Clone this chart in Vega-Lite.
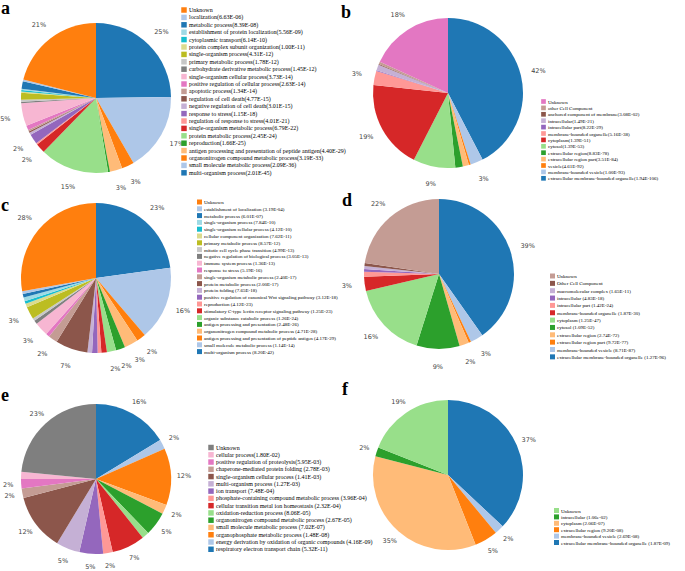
{
  "$schema": "https://vega.github.io/schema/vega-lite/v6.json",
  "padding": 0,
  "background": "white",
  "config": {"view": {"stroke": null}},
  "columns": 2,
  "spacing": {"row": 14, "column": 182},
  "bounds": "flush",
  "resolve": {"scale": {"color": "independent", "theta": "independent"}, "legend": {"color": "independent"}},
  "datasets": {
    "a": [
      {"k": "multi-organism process(2.01E-45)", "v": 0.25, "o": 0},
      {"k": "small molecule metabolic process(2.09E-36)", "v": 0.17, "o": 1},
      {"k": "organonitrogen compound metabolic process(3.19E-33)", "v": 0.027, "o": 2},
      {"k": "antigen processing and presentation of peptide antigen(4.40E-29)", "v": 0.027, "o": 3},
      {"k": "reproduction(1.66E-25)", "v": 0.004, "o": 4},
      {"k": "protein metabolic process(2.45E-24)", "v": 0.15, "o": 5},
      {"k": "single-organism metabolic process(6.79E-22)", "v": 0.021, "o": 6},
      {"k": "regulation of response to stress(4.01E-21)", "v": 0.003, "o": 7},
      {"k": "response to stress(1.15E-18)", "v": 0.022, "o": 8},
      {"k": "negative regulation of cell death(3.01E-15)", "v": 0.005, "o": 9},
      {"k": "regulation of cell death(4.77E-15)", "v": 0.003, "o": 10},
      {"k": "apoptotic process(1.34E-14)", "v": 0.003, "o": 11},
      {"k": "positive regulation of cellular process(2.63E-14)", "v": 0.01, "o": 12},
      {"k": "single-organism cellular process(3.73E-14)", "v": 0.05, "o": 13},
      {"k": "carbohydrate derivative metabolic process(1.45E-12)", "v": 0.003, "o": 14},
      {"k": "primary metabolic process(1.78E-12)", "v": 0.004, "o": 15},
      {"k": "single-organism process(4.31E-12)", "v": 0.015, "o": 16},
      {"k": "protein complex subunit organization(1.00E-11)", "v": 0.003, "o": 17},
      {"k": "cytoplasmic transport(6.14E-10)", "v": 0.003, "o": 18},
      {"k": "establishment of protein localization(5.56E-09)", "v": 0.003, "o": 19},
      {"k": "metabolic process(8.39E-08)", "v": 0.016, "o": 20},
      {"k": "localization(6.63E-06)", "v": 0.004, "o": 21},
      {"k": "Unknown", "v": 0.212, "o": 22}
    ],
    "b": [
      {"k": "extracellular membrane-bounded organelle(1.94E-106)", "v": 0.42, "o": 0},
      {"k": "membrane-bounded vesicle(1.00E-93)", "v": 0.027, "o": 1},
      {"k": "vesicle(4.61E-92)", "v": 0.004, "o": 2},
      {"k": "extracellular region part(3.51E-84)", "v": 0.013, "o": 3},
      {"k": "extracellular region(8.83E-78)", "v": 0.016, "o": 4},
      {"k": "cytosol(1.39E-53)", "v": 0.09, "o": 5},
      {"k": "cytoplasm(1.39E-51)", "v": 0.19, "o": 6},
      {"k": "membrane-bounded organelle(5.16E-38)", "v": 0.03, "o": 7},
      {"k": "intracellular part(8.22E-29)", "v": 0.002, "o": 8},
      {"k": "intracellular(1.49E-21)", "v": 0.012, "o": 9},
      {"k": "anchored component of membrane(3.08E-02)", "v": 0.002, "o": 10},
      {"k": "other Cell Component", "v": 0.005, "o": 11},
      {"k": "Unknown", "v": 0.18, "o": 12}
    ],
    "c": [
      {"k": "multi-organism process (8.20E-42)", "v": 0.23, "o": 0},
      {"k": "small molecule metabolic process (1.14E-14)", "v": 0.16, "o": 1},
      {"k": "antigen processing and presentation of peptide antigen (4.17E-29)", "v": 0.02, "o": 2},
      {"k": "organonitrogen compound metabolic process (4.71E-28)", "v": 0.03, "o": 3},
      {"k": "antigen processing and presentation (2.48E-26)", "v": 0.02, "o": 4},
      {"k": "organic substance catabolic process (1.26E-24)", "v": 0.02, "o": 5},
      {"k": "stimulatory C-type lectin receptor signaling pathway (1.25E-23)", "v": 0.012, "o": 6},
      {"k": "reproduction (4.12E-23)", "v": 0.008, "o": 7},
      {"k": "positive regulation of canonical Wnt signaling pathway (3.12E-18)", "v": 0.012, "o": 8},
      {"k": "protein folding (7.65E-18)", "v": 0.01, "o": 9},
      {"k": "protein metabolic process (2.00E-17)", "v": 0.07, "o": 10},
      {"k": "single-organism metabolic process (2.40E-17)", "v": 0.02, "o": 11},
      {"k": "response to stress (5.19E-16)", "v": 0.008, "o": 12},
      {"k": "immune system process (1.36E-13)", "v": 0.03, "o": 13},
      {"k": "negative regulation of biological process (3.05E-13)", "v": 0.008, "o": 14},
      {"k": "mitotic cell cycle phase transition (4.99E-13)", "v": 0.006, "o": 15},
      {"k": "primary metabolic process (8.57E-12)", "v": 0.027, "o": 16},
      {"k": "cellular component organization (7.62E-11)", "v": 0.008, "o": 17},
      {"k": "single-organism cellular process (4.12E-10)", "v": 0.006, "o": 18},
      {"k": "single-organism process (7.84E-10)", "v": 0.008, "o": 19},
      {"k": "metabolic process (6.01E-07)", "v": 0.008, "o": 20},
      {"k": "establishment of localization (3.19E-04)", "v": 0.006, "o": 21},
      {"k": "Unknown", "v": 0.28, "o": 22}
    ],
    "d": [
      {"k": "extracellular membrane-bounded organelle (1.27E-96)", "v": 0.39, "o": 0},
      {"k": "membrane-bounded vesicle (8.71E-87)", "v": 0.027, "o": 1},
      {"k": "extracellular region part (9.72E-77)", "v": 0.005, "o": 2},
      {"k": "extracellular region (2.74E-72)", "v": 0.02, "o": 3},
      {"k": "cytosol (1.09E-52)", "v": 0.09, "o": 4},
      {"k": "cytoplasm (1.25E-47)", "v": 0.16, "o": 5},
      {"k": "membrane-bounded organelle (1.87E-30)", "v": 0.03, "o": 6},
      {"k": "intracellular part (1.42E-24)", "v": 0.01, "o": 7},
      {"k": "intracellular (4.83E-18)", "v": 0.006, "o": 8},
      {"k": "macromolecular complex (1.65E-11)", "v": 0.006, "o": 9},
      {"k": "Other Cell Component", "v": 0.006, "o": 10},
      {"k": "Unknown", "v": 0.22, "o": 11}
    ],
    "e": [
      {"k": "respiratory electron transport chain (5.32E-11)", "v": 0.16, "o": 0},
      {"k": "energy derivation by oxidation of organic compounds (4.16E-09)", "v": 0.02, "o": 1},
      {"k": "organophosphate metabolic process (1.48E-08)", "v": 0.12, "o": 2},
      {"k": "small molecule metabolic process (7.02E-07)", "v": 0.02, "o": 3},
      {"k": "organonitrogen compound metabolic process (2.67E-05)", "v": 0.05, "o": 4},
      {"k": "oxidation-reduction process (8.06E-05)", "v": 0.015, "o": 5},
      {"k": "cellular transition metal ion homeostasis (2.32E-04)", "v": 0.07, "o": 6},
      {"k": "phosphate-containing compound metabolic process (3.96E-04)", "v": 0.02, "o": 7},
      {"k": "ion transport (7.48E-04)", "v": 0.05, "o": 8},
      {"k": "multi-organism process (1.27E-03)", "v": 0.05, "o": 9},
      {"k": "single-organism cellular process (1.41E-03)", "v": 0.12, "o": 10},
      {"k": "chaperone-mediated protein folding (2.78E-03)", "v": 0.02, "o": 11},
      {"k": "positive regulation of proteolysis(5.95E-03)", "v": 0.02, "o": 12},
      {"k": "cellular process(1.80E-02)", "v": 0.015, "o": 13},
      {"k": "Unknown", "v": 0.23, "o": 14}
    ],
    "f": [
      {"k": "extracellular membrane-bounded organelle (1.87E-09)", "v": 0.37, "o": 0},
      {"k": "membrane-bounded vesicle (2.69E-08)", "v": 0.02, "o": 1},
      {"k": "extracellular region (9.20E-08)", "v": 0.05, "o": 2},
      {"k": "cytoplasm (2.06E-07)", "v": 0.35, "o": 3},
      {"k": "intracellular (1.06e-02)", "v": 0.02, "o": 4},
      {"k": "Unknown", "v": 0.19, "o": 5}
    ]
  },
  "concat": [
    {
      "width": 170, "height": 168,
      "title": {"text": "a", "anchor": "start", "frame": "group", "font": "Liberation Serif", "fontSize": 18, "fontWeight": "bold", "color": "#000", "offset": 0, "dx": -10, "dy": 11},
      "data": {"name": "a"},
      "layer": [
        {"mark": {"type": "arc", "radius": 75},
         "encoding": {
           "theta": {"field": "v", "type": "quantitative", "stack": true},
           "order": {"field": "o", "type": "quantitative"},
           "color": {"field": "k", "type": "nominal",
             "scale": {"domain": ["Unknown", "localization(6.63E-06)", "metabolic process(8.39E-08)", "establishment of protein localization(5.56E-09)", "cytoplasmic transport(6.14E-10)", "protein complex subunit organization(1.00E-11)", "single-organism process(4.31E-12)", "primary metabolic process(1.78E-12)", "carbohydrate derivative metabolic process(1.45E-12)", "single-organism cellular process(3.73E-14)", "positive regulation of cellular process(2.63E-14)", "apoptotic process(1.34E-14)", "regulation of cell death(4.77E-15)", "negative regulation of cell death(3.01E-15)", "response to stress(1.15E-18)", "regulation of response to stress(4.01E-21)", "single-organism metabolic process(6.79E-22)", "protein metabolic process(2.45E-24)", "reproduction(1.66E-25)", "antigen processing and presentation of peptide antigen(4.40E-29)", "organonitrogen compound metabolic process(3.19E-33)", "small molecule metabolic process(2.09E-36)", "multi-organism process(2.01E-45)"],
                       "range": ["#ff7f0e","#aec7e8","#1f77b4","#9edae5","#17becf","#dbdb8d","#bcbd22","#c7c7c7","#7f7f7f","#f7b6d2","#e377c2","#c49c94","#8c564b","#c5b0d5","#9467bd","#ff9896","#d62728","#98df8a","#2ca02c","#ffbb78","#ff7f0e","#aec7e8","#1f77b4"]},
             "legend": {"orient": "none", "legendX": 170, "legendY": -7, "title": null, "symbolType": "square", "symbolSize": 30, "symbolStrokeWidth": 0, "symbolOpacity": 1, "labelFont": "Liberation Serif", "labelFontSize": 6, "labelColor": "#000", "rowPadding": 1.4, "labelLimit": 400, "labelOffset": 2, "padding": 0}}
         }},
        {"mark": {"type": "text", "radius": 93, "font": "DejaVu Sans", "fontSize": 6.5, "color": "#444", "align": "center", "baseline": "middle"},
         "encoding": {
           "theta": {"field": "v", "type": "quantitative", "stack": true},
           "order": {"field": "o", "type": "quantitative"},
           "detail": {"field": "k"},
           "text": {"condition": {"test": "datum.v >= 0.0195", "field": "v", "type": "quantitative", "format": ".0%"}, "value": ""}
         }}
      ]
    },
    {
      "width": 170, "height": 158,
      "title": {"text": "b", "anchor": "start", "frame": "group", "font": "Liberation Serif", "fontSize": 18, "fontWeight": "bold", "color": "#000", "offset": 0, "dx": -22, "dy": 10},
      "data": {"name": "b"},
      "layer": [
        {"mark": {"type": "arc", "radius": 75},
         "encoding": {
           "theta": {"field": "v", "type": "quantitative", "stack": true},
           "order": {"field": "o", "type": "quantitative"},
           "color": {"field": "k", "type": "nominal",
             "scale": {"domain": ["Unknown", "other Cell Component", "anchored component of membrane(3.08E-02)", "intracellular(1.49E-21)", "intracellular part(8.22E-29)", "membrane-bounded organelle(5.16E-38)", "cytoplasm(1.39E-51)", "cytosol(1.39E-53)", "extracellular region(8.83E-78)", "extracellular region part(3.51E-84)", "vesicle(4.61E-92)", "membrane-bounded vesicle(1.00E-93)", "extracellular membrane-bounded organelle(1.94E-106)"],
                       "range": ["#e377c2","#c49c94","#8c564b","#c5b0d5","#9467bd","#ff9896","#d62728","#98df8a","#2ca02c","#ffbb78","#ff7f0e","#aec7e8","#1f77b4"]},
             "legend": {"orient": "none", "legendX": 178, "legendY": 85, "title": null, "symbolType": "square", "symbolSize": 22, "symbolStrokeWidth": 0, "symbolOpacity": 1, "labelFont": "Liberation Serif", "labelFontSize": 5, "labelColor": "#000", "rowPadding": 0.4, "labelLimit": 400, "labelOffset": 2, "padding": 0}}
         }},
        {"mark": {"type": "text", "radius": 93, "font": "DejaVu Sans", "fontSize": 6.5, "color": "#444", "align": "center", "baseline": "middle"},
         "encoding": {
           "theta": {"field": "v", "type": "quantitative", "stack": true},
           "order": {"field": "o", "type": "quantitative"},
           "detail": {"field": "k"},
           "text": {"condition": {"test": "datum.v >= 0.0195", "field": "v", "type": "quantitative", "format": ".0%"}, "value": ""}
         }}
      ]
    },
    {
      "width": 170, "height": 164,
      "title": {"text": "c", "anchor": "start", "frame": "group", "font": "Liberation Serif", "fontSize": 18, "fontWeight": "bold", "color": "#000", "offset": 0, "dx": -10, "dy": 19},
      "data": {"name": "c"},
      "layer": [
        {"mark": {"type": "arc", "radius": 75},
         "encoding": {
           "theta": {"field": "v", "type": "quantitative", "stack": true},
           "order": {"field": "o", "type": "quantitative"},
           "color": {"field": "k", "type": "nominal",
             "scale": {"domain": ["Unknown", "establishment of localization (3.19E-04)", "metabolic process (6.01E-07)", "single-organism process (7.84E-10)", "single-organism cellular process (4.12E-10)", "cellular component organization (7.62E-11)", "primary metabolic process (8.57E-12)", "mitotic cell cycle phase transition (4.99E-13)", "negative regulation of biological process (3.05E-13)", "immune system process (1.36E-13)", "response to stress (5.19E-16)", "single-organism metabolic process (2.40E-17)", "protein metabolic process (2.00E-17)", "protein folding (7.65E-18)", "positive regulation of canonical Wnt signaling pathway (3.12E-18)", "reproduction (4.12E-23)", "stimulatory C-type lectin receptor signaling pathway (1.25E-23)", "organic substance catabolic process (1.26E-24)", "antigen processing and presentation (2.48E-26)", "organonitrogen compound metabolic process (4.71E-28)", "antigen processing and presentation of peptide antigen (4.17E-29)", "small molecule metabolic process (1.14E-14)", "multi-organism process (8.20E-42)"],
                       "range": ["#ff7f0e","#aec7e8","#1f77b4","#9edae5","#17becf","#dbdb8d","#bcbd22","#c7c7c7","#7f7f7f","#f7b6d2","#e377c2","#c49c94","#8c564b","#c5b0d5","#9467bd","#ff9896","#d62728","#98df8a","#2ca02c","#ffbb78","#ff7f0e","#aec7e8","#1f77b4"]},
             "legend": {"orient": "none", "legendX": 186, "legendY": 3.5, "title": null, "symbolType": "square", "symbolSize": 25, "symbolStrokeWidth": 0, "symbolOpacity": 1, "labelFont": "Liberation Serif", "labelFontSize": 5, "labelColor": "#000", "rowPadding": 0.8, "labelLimit": 400, "labelOffset": 2, "padding": 0}}
         }},
        {"mark": {"type": "text", "radius": 93, "font": "DejaVu Sans", "fontSize": 6.5, "color": "#444", "align": "center", "baseline": "middle"},
         "encoding": {
           "theta": {"field": "v", "type": "quantitative", "stack": true},
           "order": {"field": "o", "type": "quantitative"},
           "detail": {"field": "k"},
           "text": {"condition": {"test": "datum.v >= 0.0195", "field": "v", "type": "quantitative", "format": ".0%"}, "value": ""}
         }}
      ]
    },
    {
      "width": 152, "height": 156,
      "title": {"text": "d", "anchor": "start", "frame": "group", "font": "Liberation Serif", "fontSize": 18, "fontWeight": "bold", "color": "#000", "offset": 0, "dx": -21, "dy": 14},
      "data": {"name": "d"},
      "layer": [
        {"mark": {"type": "arc", "radius": 75},
         "encoding": {
           "theta": {"field": "v", "type": "quantitative", "stack": true},
           "order": {"field": "o", "type": "quantitative"},
           "color": {"field": "k", "type": "nominal",
             "scale": {"domain": ["Unknown", "Other Cell Component", "macromolecular complex (1.65E-11)", "intracellular (4.83E-18)", "intracellular part (1.42E-24)", "membrane-bounded organelle (1.87E-30)", "cytoplasm (1.25E-47)", "cytosol (1.09E-52)", "extracellular region (2.74E-72)", "extracellular region part (9.72E-77)", "membrane-bounded vesicle (8.71E-87)", "extracellular membrane-bounded organelle (1.27E-96)"],
                       "range": ["#c49c94","#8c564b","#c5b0d5","#9467bd","#ff9896","#d62728","#98df8a","#2ca02c","#ffbb78","#ff7f0e","#aec7e8","#1f77b4"]},
             "legend": {"orient": "none", "legendX": 187, "legendY": 77.5, "title": null, "symbolType": "square", "symbolSize": 25, "symbolStrokeWidth": 0, "symbolOpacity": 1, "labelFont": "Liberation Serif", "labelFontSize": 5, "labelColor": "#000", "rowPadding": 1.35, "labelLimit": 400, "labelOffset": 2, "padding": 0}}
         }},
        {"mark": {"type": "text", "radius": 93, "font": "DejaVu Sans", "fontSize": 6.5, "color": "#444", "align": "center", "baseline": "middle"},
         "encoding": {
           "theta": {"field": "v", "type": "quantitative", "stack": true},
           "order": {"field": "o", "type": "quantitative"},
           "detail": {"field": "k"},
           "text": {"condition": {"test": "datum.v >= 0.0195", "field": "v", "type": "quantitative", "format": ".0%"}, "value": ""}
         }}
      ]
    },
    {
      "width": 170, "height": 210,
      "title": {"text": "e", "anchor": "start", "frame": "group", "font": "Liberation Serif", "fontSize": 18, "fontWeight": "bold", "color": "#000", "offset": 0, "dx": -10, "dy": 31},
      "data": {"name": "e"},
      "layer": [
        {"mark": {"type": "arc", "radius": 75},
         "encoding": {
           "theta": {"field": "v", "type": "quantitative", "stack": true},
           "order": {"field": "o", "type": "quantitative"},
           "color": {"field": "k", "type": "nominal",
             "scale": {"domain": ["Unknown", "cellular process(1.80E-02)", "positive regulation of proteolysis(5.95E-03)", "chaperone-mediated protein folding (2.78E-03)", "single-organism cellular process (1.41E-03)", "multi-organism process (1.27E-03)", "ion transport (7.48E-04)", "phosphate-containing compound metabolic process (3.96E-04)", "cellular transition metal ion homeostasis (2.32E-04)", "oxidation-reduction process (8.06E-05)", "organonitrogen compound metabolic process (2.67E-05)", "small molecule metabolic process (7.02E-07)", "organophosphate metabolic process (1.48E-08)", "energy derivation by oxidation of organic compounds (4.16E-09)", "respiratory electron transport chain (5.32E-11)"],
                       "range": ["#7f7f7f","#f7b6d2","#e377c2","#c49c94","#8c564b","#c5b0d5","#9467bd","#ff9896","#d62728","#98df8a","#2ca02c","#ffbb78","#ff7f0e","#aec7e8","#1f77b4"]},
             "legend": {"orient": "none", "legendX": 197, "legendY": 70.5, "title": null, "symbolType": "square", "symbolSize": 30, "symbolStrokeWidth": 0, "symbolOpacity": 1, "labelFont": "Liberation Serif", "labelFontSize": 6, "labelColor": "#000", "rowPadding": 1.27, "labelLimit": 400, "labelOffset": 2, "padding": 0}}
         }},
        {"mark": {"type": "text", "radius": 88, "font": "DejaVu Sans", "fontSize": 6.5, "color": "#444", "align": "center", "baseline": "middle"},
         "encoding": {
           "theta": {"field": "v", "type": "quantitative", "stack": true},
           "order": {"field": "o", "type": "quantitative"},
           "detail": {"field": "k"},
           "text": {"condition": {"test": "datum.v >= 0.0195", "field": "v", "type": "quantitative", "format": ".0%"}, "value": ""}
         }}
      ]
    },
    {
      "width": 170, "height": 202,
      "title": {"text": "f", "anchor": "start", "frame": "group", "font": "Liberation Serif", "fontSize": 18, "fontWeight": "bold", "color": "#000", "offset": 0, "dx": -21, "dy": 25},
      "data": {"name": "f"},
      "layer": [
        {"mark": {"type": "arc", "radius": 75},
         "encoding": {
           "theta": {"field": "v", "type": "quantitative", "stack": true},
           "order": {"field": "o", "type": "quantitative"},
           "color": {"field": "k", "type": "nominal",
             "scale": {"domain": ["Unknown", "intracellular (1.06e-02)", "cytoplasm (2.06E-07)", "extracellular region (9.20E-08)", "membrane-bounded vesicle (2.69E-08)", "extracellular membrane-bounded organelle (1.87E-09)"],
                       "range": ["#98df8a","#2ca02c","#ffbb78","#ff7f0e","#aec7e8","#1f77b4"]},
             "legend": {"orient": "none", "legendX": 191, "legendY": 134, "title": null, "symbolType": "square", "symbolSize": 25, "symbolStrokeWidth": 0, "symbolOpacity": 1, "labelFont": "Liberation Serif", "labelFontSize": 5, "labelColor": "#000", "rowPadding": 0.4, "labelLimit": 400, "labelOffset": 2, "padding": 0}}
         }},
        {"mark": {"type": "text", "radius": 88, "font": "DejaVu Sans", "fontSize": 6.5, "color": "#444", "align": "center", "baseline": "middle"},
         "encoding": {
           "theta": {"field": "v", "type": "quantitative", "stack": true},
           "order": {"field": "o", "type": "quantitative"},
           "detail": {"field": "k"},
           "text": {"condition": {"test": "datum.v >= 0.0195", "field": "v", "type": "quantitative", "format": ".0%"}, "value": ""}
         }}
      ]
    }
  ]
}
